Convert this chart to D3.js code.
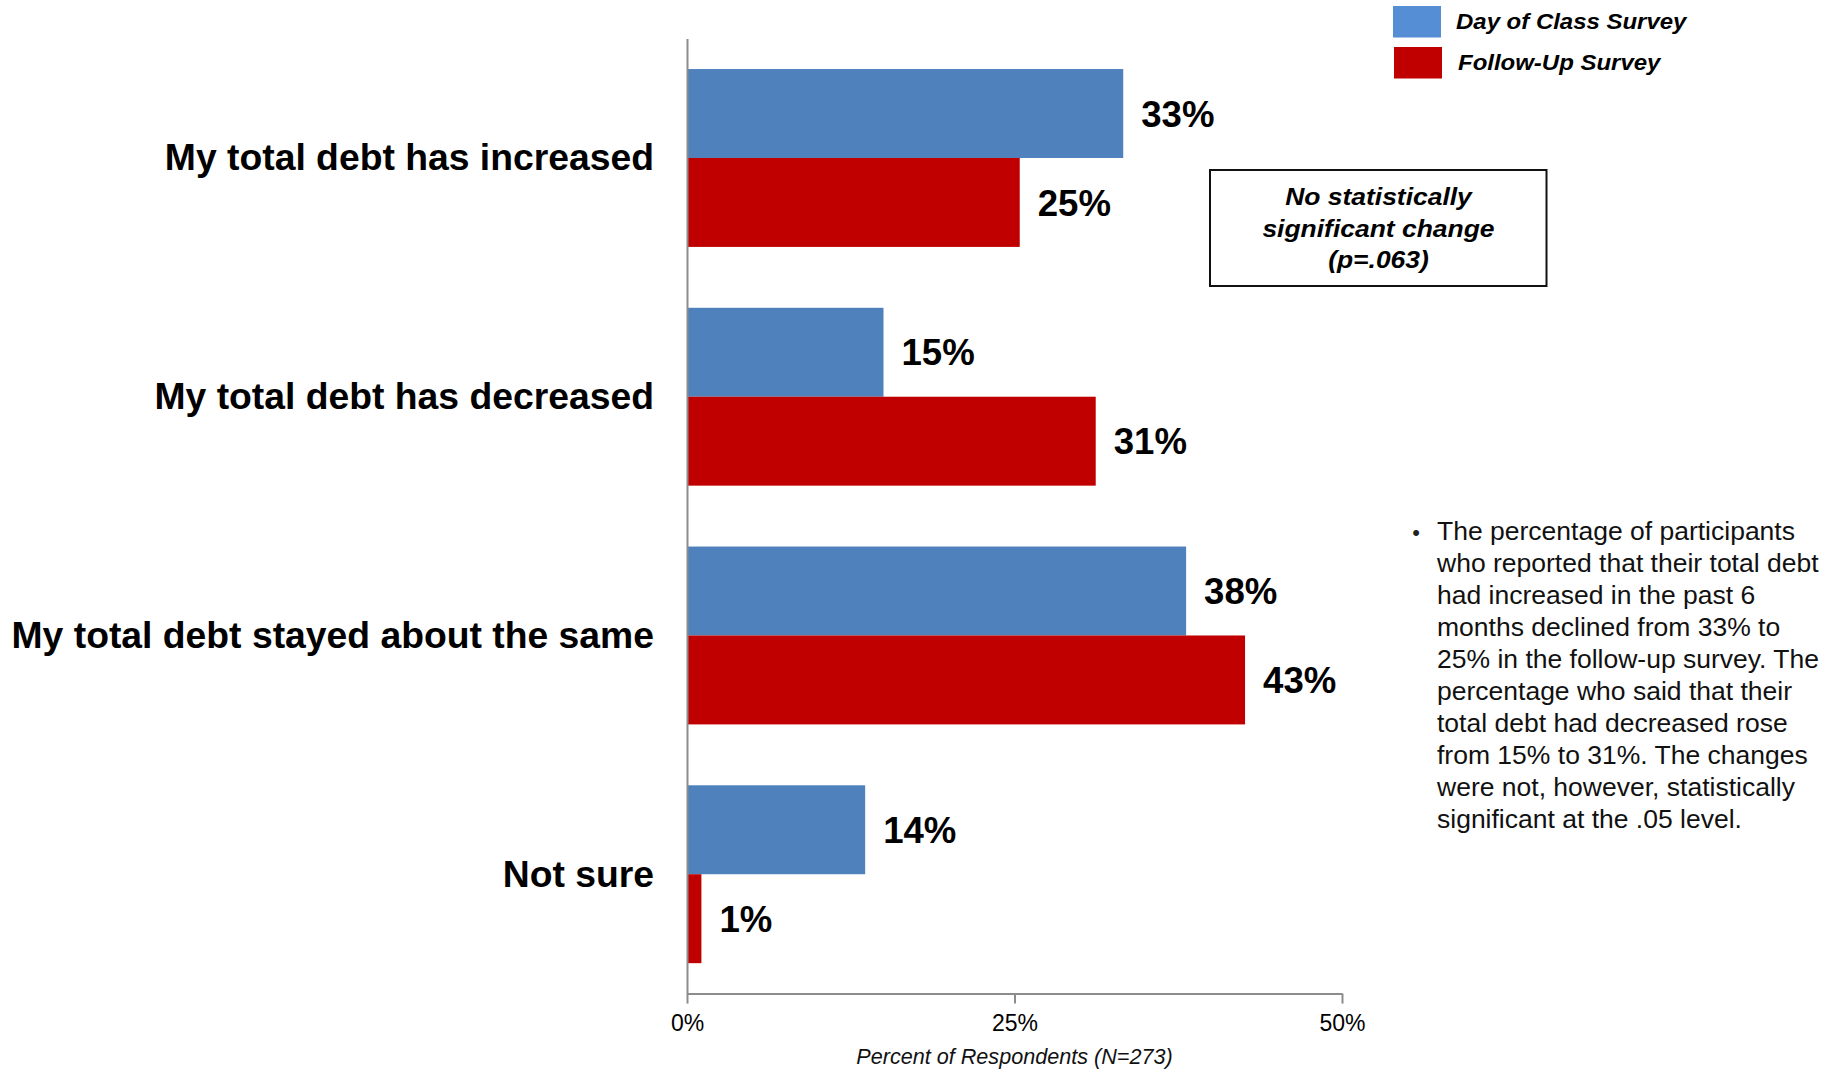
<!DOCTYPE html>
<html>
<head>
<meta charset="utf-8">
<script src="https://cdn.jsdelivr.net/npm/d3@7"></script>
<style>
  html, body { margin: 0; padding: 0; background: #ffffff; }
  svg { display: block; }
  text { font-family: "Liberation Sans", Arial, Helvetica, sans-serif; }
</style>
</head>
<body>
<svg id="chart" width="1835" height="1071"></svg>
<script>
// ---------------- data ----------------
const categories = [
  "My total debt has increased",
  "My total debt has decreased",
  "My total debt stayed about the same",
  "Not sure"
];
const seriesNames = ["Day of Class Survey", "Follow-Up Survey"];
const dayOfClass = [33.3, 15.0, 38.1, 13.6];
const followUp   = [25.4, 31.2, 42.6, 1.1];
const xTicks = [0, 25, 50];
const axisTitle = "Percent of Respondents (N=273)";
const noteLines = ["No statistically", "significant change", "(p=.063)"];
const bulletLines = [
  "The percentage of participants",
  "who reported that their total debt",
  "had increased in the past 6",
  "months declined from 33% to",
  "25% in the follow-up survey. The",
  "percentage who said that their",
  "total debt had decreased rose",
  "from 15% to 31%. The changes",
  "were not, however, statistically",
  "significant at the .05 level."
];

// ---------------- layout ----------------
const colors = ["#4F81BD", "#C00000"];
const legendColors = ["#558ED5", "#C00000"];
const svg = d3.select("#chart");

const x = d3.scaleLinear().domain([0, 50]).range([687, 1342]);
const y = d3.scaleBand().domain(categories).range([38.6, 993.6])
  .paddingInner(0.255).paddingOuter(0.1275);
const ySub = d3.scaleBand().domain(seriesNames).range([0, y.bandwidth()]);

const series = [dayOfClass, followUp];

// bars
const groups = svg.append("g").selectAll("g")
  .data(categories)
  .join("g")
  .attr("transform", d => `translate(0,${y(d)})`);

groups.selectAll("rect")
  .data((c, i) => seriesNames.map((s, j) => ({ s, v: series[j][i], j })))
  .join("rect")
  .attr("x", x(0))
  .attr("y", d => ySub(d.s))
  .attr("width", d => x(d.v) - x(0))
  .attr("height", ySub.bandwidth())
  .attr("fill", d => colors[d.j]);

// value labels
groups.selectAll("text.val")
  .data((c, i) => seriesNames.map((s, j) => ({ s, v: series[j][i], j })))
  .join("text")
  .attr("class", "val")
  .attr("x", d => x(d.v) + 18)
  .attr("y", d => ySub(d.s) + ySub.bandwidth() / 2)
  .attr("dy", "0.36em")
  .attr("font-size", 36.6)
  .attr("font-weight", "bold")
  .attr("fill", "#000")
  .text(d => Math.round(d.v) + "%");

// x axis
const xAxis = svg.append("g")
  .attr("transform", `translate(0,${y.range()[1]})`)
  .call(d3.axisBottom(x).tickValues(xTicks).tickFormat(d => d + "%")
    .tickSize(10).tickSizeOuter(0).tickPadding(11));
xAxis.select(".domain").attr("stroke", "#8C8C8C").attr("stroke-width", 2);
xAxis.selectAll(".tick line").attr("stroke", "#8C8C8C").attr("stroke-width", 2);
xAxis.selectAll(".tick text").attr("font-size", 23).attr("fill", "#000")
  .attr("font-family", "'Liberation Sans', Arial, sans-serif");

// y axis
const yAxis = svg.append("g")
  .attr("transform", `translate(${x(0)},0)`)
  .call(d3.axisLeft(y).tickSize(0).tickSizeOuter(0).tickPadding(33));
yAxis.select(".domain").attr("stroke", "#8C8C8C").attr("stroke-width", 2);
yAxis.selectAll(".tick text")
  .attr("font-size", 37.3)
  .attr("font-weight", "bold")
  .attr("fill", "#000")
  .attr("dy", "0.33em")
  .attr("font-family", "'Liberation Sans', Arial, sans-serif");

// axis title
svg.append("text")
  .attr("x", (x.range()[0] + x.range()[1]) / 2)
  .attr("y", 1064)
  .attr("text-anchor", "middle")
  .attr("font-size", 21.6)
  .attr("font-style", "italic")
  .attr("fill", "#111")
  .text(axisTitle);

// legend
const legend = svg.append("g");
const legendY = [6, 47];
seriesNames.forEach((s, i) => {
  legend.append("rect")
    .attr("x", 1393 + i).attr("y", legendY[i])
    .attr("width", 48).attr("height", 31.5)
    .attr("fill", legendColors[i]);
  legend.append("text")
    .attr("transform", `translate(${1456 + 2 * i},${legendY[i] + 23}) scale(1.08,1)`)
    .attr("font-size", 22.2)
    .attr("font-weight", "bold")
    .attr("font-style", "italic")
    .attr("fill", "#000")
    .text(s);
});

// note box
svg.append("rect")
  .attr("x", 1210).attr("y", 170)
  .attr("width", 336.5).attr("height", 116)
  .attr("fill", "#fff").attr("stroke", "#111").attr("stroke-width", 2);
noteLines.forEach((t, i) => {
  svg.append("text")
    .attr("transform", `translate(1378.5,${205 + i * 31.6}) scale(1.08,1)`)
    .attr("text-anchor", "middle")
    .attr("font-size", 24.5)
    .attr("font-weight", "bold")
    .attr("font-style", "italic")
    .attr("fill", "#000")
    .text(t);
});

// bullet text
svg.append("text")
  .attr("x", 1416).attr("y", 539.5)
  .attr("text-anchor", "middle")
  .attr("font-size", 22)
  .attr("fill", "#222")
  .text("•");
const bt = svg.append("text")
  .attr("font-size", 26.5)
  .attr("fill", "#111");
bulletLines.forEach((t, i) => {
  bt.append("tspan").attr("x", 1437).attr("y", 539.5 + i * 32.1).text(t);
});
</script>
</body>
</html>
